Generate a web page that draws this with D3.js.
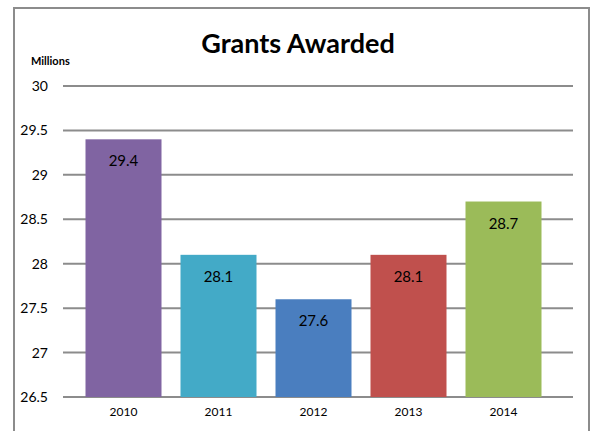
<!DOCTYPE html>
<html>
<head>
<meta charset="utf-8">
<script src="https://cdn.jsdelivr.net/npm/d3@7"></script>
<style>
  body { margin: 0; background: #fff; }
  svg { display: block; font-family: Lato, "Open Sans", sans-serif; }
</style>
</head>
<body>
<div id="chart"></div>
<script>
const years = ['2010', '2011', '2012', '2013', '2014'];
const grants = [29.4, 28.1, 27.6, 28.1, 28.7];
const barColors = ['#8064a2', '#43aac7', '#4a7ebf', '#c0504d', '#9bbb59'];
const yTicks = [26.5, 27, 27.5, 28, 28.5, 29, 29.5, 30];

const width = 595, height = 431;

const svg = d3.select('#chart').append('svg')
    .attr('width', width)
    .attr('height', height);

// frame (no bottom edge visible)
svg.append('path')
    .attr('d', `M14,${height} V8 H589 V${height}`)
    .attr('fill', 'none')
    .attr('stroke', '#8c8c8c')
    .attr('stroke-width', 2);

const x = d3.scaleBand()
    .domain(years)
    .range([76, 551])
    .paddingInner(0.2)
    .paddingOuter(0.1);

const y = d3.scaleLinear()
    .domain([26.5, 30])
    .range([397, 86]);

// gridlines
svg.append('g')
    .selectAll('line')
    .data(yTicks)
    .join('line')
    .attr('x1', 63)
    .attr('x2', 573)
    .attr('y1', d => y(d))
    .attr('y2', d => y(d))
    .attr('stroke', '#8c8c8c')
    .attr('stroke-width', 2);

// y axis labels
const yAxis = svg.append('g')
    .attr('transform', 'translate(48,0)')
    .call(d3.axisLeft(y).tickValues(yTicks).tickSize(0).tickPadding(0).tickFormat(d => d));
yAxis.select('.domain').remove();
yAxis.selectAll('text')
    .attr('font-family', 'Lato, sans-serif')
    .attr('font-size', 14)
    .attr('fill', '#000');

// bars
svg.append('g')
    .selectAll('rect')
    .data(grants)
    .join('rect')
    .attr('x', (d, i) => x(years[i]))
    .attr('y', d => y(d))
    .attr('width', x.bandwidth())
    .attr('height', d => y(26.5) - y(d))
    .attr('fill', (d, i) => barColors[i]);

// value labels
svg.append('g')
    .selectAll('text')
    .data(grants)
    .join('text')
    .attr('x', (d, i) => x(years[i]) + x.bandwidth() / 2)
    .attr('y', d => y(d) + 27)
    .attr('text-anchor', 'middle')
    .attr('font-size', 15)
    .attr('fill', '#000')
    .text(d => d.toFixed(1));

// x axis labels
const xAxis = svg.append('g')
    .attr('transform', `translate(0,${y(26.5)})`)
    .call(d3.axisBottom(x).tickSize(0).tickPadding(10));
xAxis.select('.domain').remove();
xAxis.selectAll('text')
    .attr('font-family', 'Lato, sans-serif')
    .attr('font-size', 12)
    .attr('fill', '#000');

// title
svg.append('text')
    .attr('x', 298)
    .attr('y', 53)
    .attr('text-anchor', 'middle')
    .attr('font-size', 27)
    .attr('font-weight', 'bold')
    .text('Grants Awarded');

svg.append('text')
    .attr('x', 31)
    .attr('y', 65)
    .attr('font-size', 11)
    .attr('font-weight', 'bold')
    .text('Millions');
</script>
</body>
</html>
